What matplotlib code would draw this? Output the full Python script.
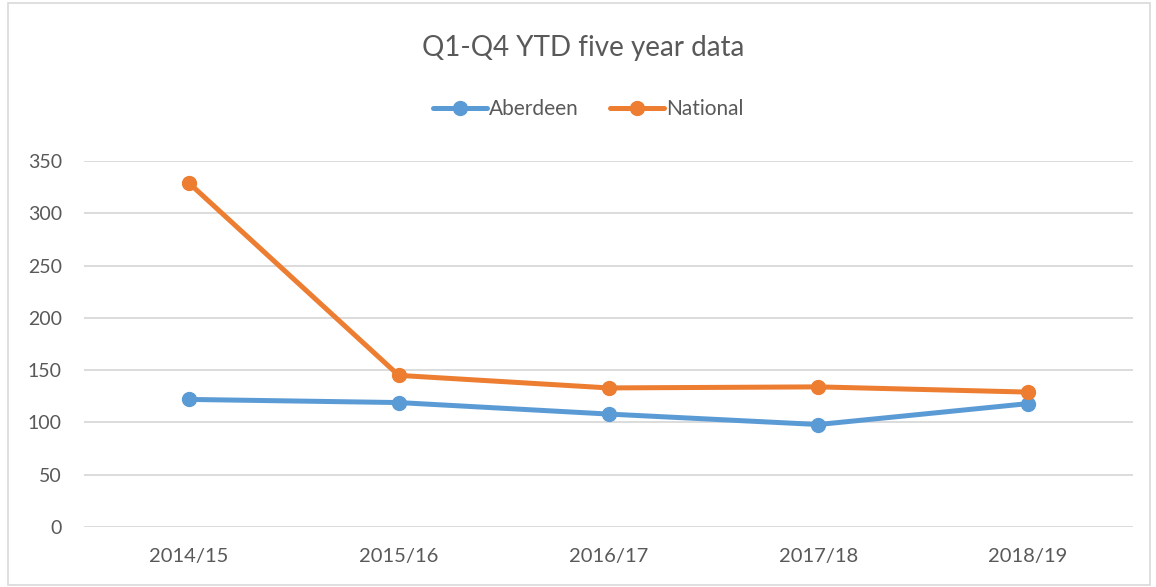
import matplotlib
matplotlib.use("Agg")
import matplotlib.pyplot as plt
from matplotlib.patches import Rectangle

# ─── data ─────────────────────────────────────────────────────────────────────

years = ["2014/15", "2015/16", "2016/17", "2017/18", "2018/19"]
aberdeen = [122, 119, 108, 98, 118]
national = [329, 145, 133, 134, 129]
y_ticks = [0, 50, 100, 150, 200, 250, 300, 350]

# ─── style ────────────────────────────────────────────────────────────────────

BLUE = "#5B9BD5"
ORANGE = "#ED7D31"
GRID = "#D9D9D9"
TEXT = "#595959"

plt.rcParams["font.family"] = ["Lato", "DejaVu Sans"]

fig = plt.figure(figsize=(11.56, 5.87), dpi=100)
ax = fig.add_axes([84 / 1156, 1 - 527 / 587, (1133 - 84) / 1156, (527 - 161) / 587])

x = list(range(len(years)))
ax.plot(x, aberdeen, color=BLUE, lw=3.6, marker="o", ms=10, label="Aberdeen",
        solid_capstyle="round", zorder=3)
ax.plot(x, national, color=ORANGE, lw=3.6, marker="o", ms=10, label="National",
        solid_capstyle="round", zorder=3)

ax.set_xlim(-0.5, len(years) - 0.5)
ax.set_ylim(0, 350)
ax.set_xticks(x)
ax.set_xticklabels(years)
ax.set_yticks(y_ticks)
ax.tick_params(axis="x", length=0, labelsize=14.5, colors=TEXT, pad=15)
ax.tick_params(axis="y", length=0, labelsize=14, colors=TEXT, pad=16)
ax.grid(axis="y", color=GRID, lw=1.3)
ax.set_axisbelow(True)
for s in ax.spines.values():
    s.set_visible(False)

fig.text(583 / 1156, 1 - 48 / 587, "Q1-Q4 YTD five year data", ha="center",
         va="center", fontsize=20, color=TEXT)

fig.legend(loc="center", bbox_to_anchor=(588 / 1156, 1 - 109 / 587), ncol=2,
           frameon=False, fontsize=15, labelcolor=TEXT, handlelength=2.6,
           handletextpad=0.1, columnspacing=1.5)

# chart frame
fig.patches.append(Rectangle((8 / 1156, 2 / 587), 1142 / 1156, 582 / 587,
                             transform=fig.transFigure, fill=False,
                             ec=GRID, lw=1.2))

fig.savefig("out.png", dpi=100)
